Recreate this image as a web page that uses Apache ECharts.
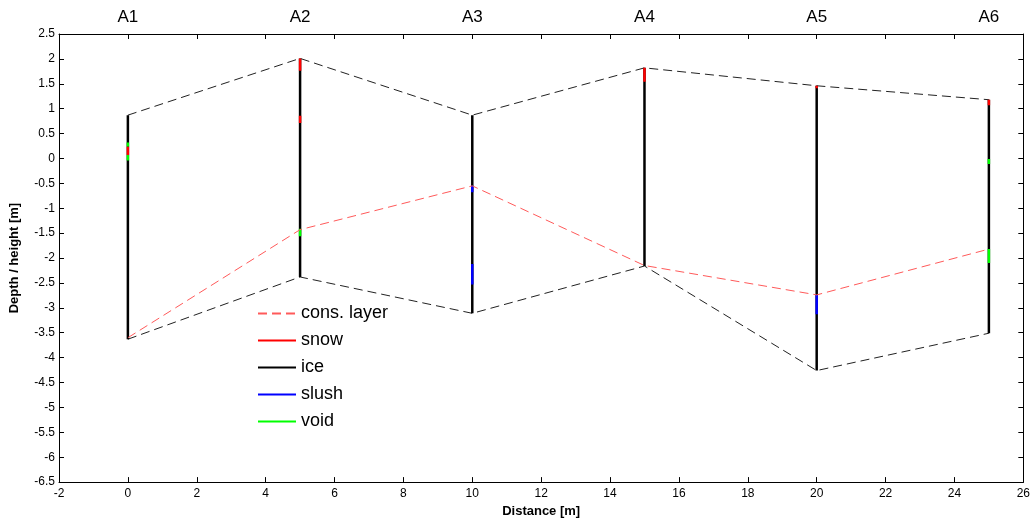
<!DOCTYPE html>
<html>
<head>
<meta charset="utf-8">
<script src="https://cdn.jsdelivr.net/npm/echarts@6/dist/echarts.min.js"></script>
<style>html,body{margin:0;padding:0;background:#fff}#c{width:1033px;height:523px}</style>
</head>
<body>
<div id="c"></div>
<script>
// ---- data ----
const boreholes = ['A1', 'A2', 'A3', 'A4', 'A5', 'A6'];
const distance = [0, 5, 10, 15, 20, 25];
const surfaceTop = [0.87, 2.01, 0.87, 1.82, 1.46, 1.18];
const iceBottom = [-3.63, -2.38, -3.11, -2.16, -4.26, -3.51];
const consLayer = [-3.6, -1.43, -0.55, -2.15, -2.74, -1.82];
// segments: [distance, from, to]
const snowSegments = [[0, 0.24, 0.07], [5, 2.01, 1.76], [5, 0.86, 0.71], [15, 1.82, 1.54], [20, 1.46, 1.41], [25, 1.18, 1.07]];
const slushSegments = [[10, -0.55, -0.68], [10, -2.12, -2.53], [20, -2.74, -3.13]];
const voidSegments = [[0, 0.32, 0.24], [0, 0.07, -0.04], [5, -1.41, -1.56], [25, -0.01, -0.11], [25, -1.82, -2.10]];
const xTicks = [-2, 26, 2];
const yTicks = [-6.5, 2.5, 0.5];

// ---- build ----
const FONT = 'Liberation Sans, Arial, sans-serif';
function segSeries(name, color, segs) {
  return segs.map(s => ({
    name: name, type: 'line', symbol: 'none', silent: true, z: 5,
    lineStyle: { color: color, width: 2.5 },
    itemStyle: { color: color },
    data: [[s[0], s[1]], [s[0], s[2]]]
  }));
}
const iceCols = distance.map((d, i) => [d, surfaceTop[i], iceBottom[i]]);
const series = [];
series.push({
  name: 'cons. layer', type: 'line', symbol: 'none', z: 6,
  lineStyle: { color: '#ff5a5a', width: 1, type: [9, 5] },
  itemStyle: { color: '#ff5a5a' },
  data: distance.map((d, i) => [d, consLayer[i]])
});
series.push({
  name: 'topline', type: 'line', symbol: 'none', z: 3,
  lineStyle: { color: '#222', width: 1, type: [9, 5] },
  data: distance.map((d, i) => [d, surfaceTop[i]])
});
series.push({
  name: 'botline', type: 'line', symbol: 'none', z: 3,
  lineStyle: { color: '#222', width: 1, type: [9, 5] },
  data: distance.map((d, i) => [d, iceBottom[i]])
});
series.push(...segSeries('ice', '#000000', iceCols));
series.push(...segSeries('snow', '#ff0000', snowSegments));
series.push(...segSeries('slush', '#0000ff', slushSegments));
series.push(...segSeries('void', '#00ff00', voidSegments));
series.push({
  name: 'labels', type: 'scatter', symbolSize: 0, silent: true,
  clip: false,
  data: distance.map((d, i) => ({ value: [d, yTicks[1]], name: boreholes[i] })),
  label: {
    show: true, position: 'top', distance: 8, opacity: 1,
    formatter: p => p.name, color: '#000', fontSize: 17, fontFamily: FONT
  }
});

const axisCommon = {
  axisLine: { show: true, onZero: false, lineStyle: { color: '#000', width: 1 } },
  axisTick: { show: true, inside: true, length: 5, lineStyle: { color: '#000' } },
  splitLine: { show: false }
};
const option = {
  animation: false,
  backgroundColor: '#fff',
  grid: { left: 55, right: 5, top: 34, bottom: 40 },
  xAxis: [
    Object.assign({
      type: 'value', min: xTicks[0], max: xTicks[1], interval: xTicks[2], position: 'bottom',
      name: 'Distance [m]', nameLocation: 'middle', nameGap: 21,
      nameTextStyle: { fontWeight: 'bold', fontSize: 13, fontFamily: FONT, color: '#000' },
      axisLabel: { color: '#000', fontSize: 12, fontFamily: FONT, margin: 6, showMaxLabel: true, showMinLabel: true }
    }, axisCommon),
    Object.assign({
      type: 'value', min: xTicks[0], max: xTicks[1], interval: xTicks[2], position: 'top',
      axisLabel: { show: false }
    }, axisCommon)
  ],
  yAxis: [
    Object.assign({
      type: 'value', min: yTicks[0], max: yTicks[1], interval: yTicks[2], position: 'left',
      name: 'Depth / height [m]', nameLocation: 'middle', nameGap: 38, nameRotate: 90,
      nameTextStyle: { fontWeight: 'bold', fontSize: 13, fontFamily: FONT, color: '#000' },
      axisLabel: { color: '#000', fontSize: 12, fontFamily: FONT, margin: 4 }
    }, axisCommon),
    Object.assign({
      type: 'value', min: yTicks[0], max: yTicks[1], interval: yTicks[2], position: 'right',
      axisLabel: { show: false }
    }, axisCommon)
  ],
  legend: {
    data: ['cons. layer', 'snow', 'ice', 'slush', 'void'],
    orient: 'vertical', left: 252, top: 298,
    itemWidth: 38, itemHeight: 14, itemGap: 6,
    itemStyle: { opacity: 0 },
    textStyle: { fontSize: 18, fontFamily: FONT, color: '#000', lineHeight: 21 }
  },
  series: series
};
echarts.init(document.getElementById('c'), null, { renderer: 'canvas' }).setOption(option);
</script>
</body>
</html>
